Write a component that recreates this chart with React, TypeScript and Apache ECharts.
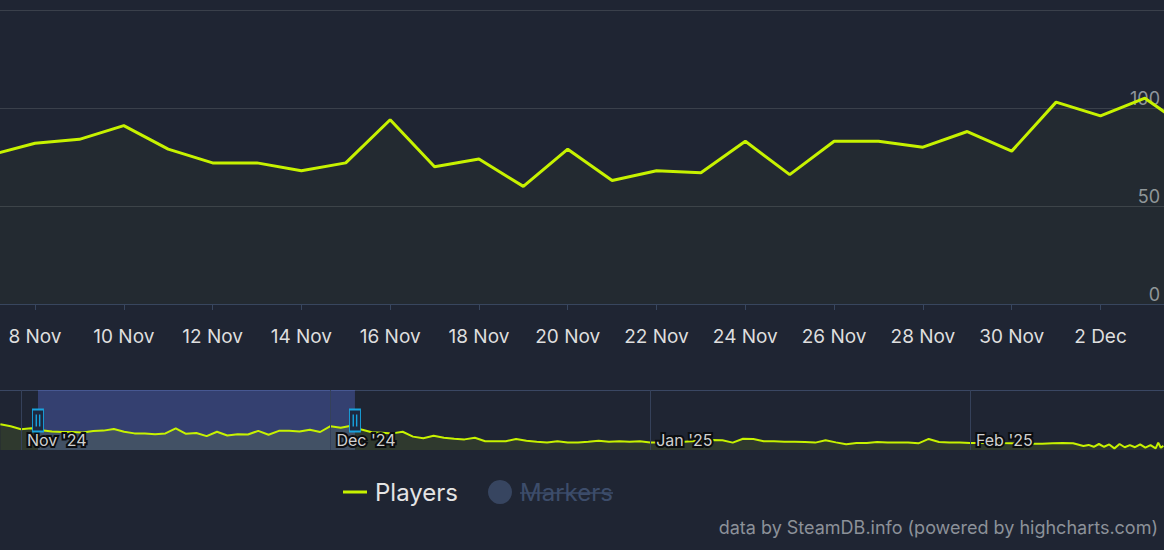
import React, { useEffect, useRef } from 'react';
import * as echarts from 'echarts';

// ---------- data ----------
const dailyStart = '2024-10-30';
const dailyPlayers = [
  112, 103, 90, 94, 86, 80, 78, 78, 76,
  82, 84, 91, 79, 72, 72, 68, 72, 94, 70, 74, 60, 79, 63, 68, 67, 83, 66, 83, 83, 80, 88, 78,
  103, 96, 105, 89, 77, 75, 72, 79, 58, 51, 62, 53, 49, 46, 53, 38, 38, 38, 48, 40, 36, 33, 38, 32, 33, 36, 40, 36, 38, 36, 38,
  33, 33, 36, 35, 38, 40, 43, 42, 32, 49, 48, 38, 38, 36, 36, 35, 32, 42, 33, 25, 30, 30, 35, 32, 33, 33, 29, 48, 35, 33, 32,
  30, 30, 32, 30, 29, 26, 27, 27, 29, 30, 29,
];
const recentTimes = [
  '2025-02-12T00:00', '2025-02-12T12:00', '2025-02-13T00:00', '2025-02-13T12:00',
  '2025-02-14T00:00', '2025-02-14T12:00', '2025-02-15T00:00', '2025-02-15T12:00',
  '2025-02-16T00:00', '2025-02-16T12:00', '2025-02-17T00:00', '2025-02-17T12:00',
  '2025-02-18T00:00', '2025-02-18T12:00', '2025-02-19T00:00', '2025-02-19T06:00',
  '2025-02-19T12:00', '2025-02-19T18:00',
];
const recentPlayers = [17, 22, 14, 26, 14, 24, 7, 26, 12, 21, 12, 24, 10, 21, 7, 32, 10, 18];

const mainRange = ['2024-11-07T05:05', '2024-12-03T10:20'];
const mainTickDates = [
  '2024-11-08', '2024-11-10', '2024-11-12', '2024-11-14', '2024-11-16', '2024-11-18', '2024-11-20',
  '2024-11-22', '2024-11-24', '2024-11-26', '2024-11-28', '2024-11-30', '2024-12-02',
];
const yTicks = [0, 50, 100, 150];
const navigatorRange = ['2024-10-29T23:08', '2025-02-19T19:26'];
const navigatorMonths = ['2024-11-01', '2024-12-01', '2025-01-01', '2025-02-01'];
const selectedRange = ['2024-11-02T15:30', '2024-12-03T09:00'];
const navigatorMax = 260;
const handleLevel = 128;

const legendNames = ['Players', 'Markers'];
const creditText = 'data by SteamDB.info (powered by highcharts.com)';

// ---------- helpers ----------
const DAY = 86400000;
const ORIGIN = Date.UTC(2024, 10, 8);
const MONTHS = ['Jan', 'Feb', 'Mar', 'Apr', 'May', 'Jun', 'Jul', 'Aug', 'Sep', 'Oct', 'Nov', 'Dec'];
function toDay(s: string): number {
  const iso = s.length <= 10 ? s + 'T00:00:00Z' : s + ':00Z';
  return (Date.parse(iso) - ORIGIN) / DAY;
}
function dateOf(v: number): Date {
  return new Date(ORIGIN + Math.round(v * 24) * 3600000);
}
const fmtDay = (v: number) => {
  const d = dateOf(v);
  return `${d.getUTCDate()} ${MONTHS[d.getUTCMonth()]}`;
};
const fmtMonth = (v: number) => {
  const d = dateOf(v);
  return `${MONTHS[d.getUTCMonth()]} '${String(d.getUTCFullYear()).slice(2)}`;
};

const BG = '#1f2533';
const LINE = '#c7f200';
const FONT = 'Inter, "Noto Sans", sans-serif';
const INACTIVE = '#3d4d6b';

export default function App() {
  const ref = useRef<HTMLDivElement>(null);
  useEffect(() => {
    if (!ref.current) return;
    const chart = echarts.init(ref.current, undefined, { renderer: 'svg' });
    const start = toDay(dailyStart);
    const playerData: number[][] = dailyPlayers
      .map((v, i) => [start + i, v])
      .concat(recentTimes.map((t, i) => [toDay(t), recentPlayers[i]]));
    const mainTicks = mainTickDates.map(toDay);
    const navTicks = navigatorMonths.map(toDay);
    const selStart = toDay(selectedRange[0]);
    const selEnd = toDay(selectedRange[1]);
    const handle = (x: number) => [
      {
        coord: [x, handleLevel],
        symbol: 'rect',
        symbolSize: [11, 22],
        itemStyle: { color: '#1d2940', borderColor: '#18a3de', borderWidth: 1.3 },
      },
      {
        coord: [x, handleLevel],
        symbol: 'path://M0,0H1.4V12H0Z M3.4,0H4.8V12H3.4Z',
        symbolSize: [4.8, 12],
        itemStyle: { color: '#18a3de' },
      },
    ];

    chart.setOption({
      animation: false,
      backgroundColor: BG,
      textStyle: { fontFamily: FONT },
      title: {
        text: creditText,
        right: 6,
        top: 518,
        padding: 0,
        textStyle: { color: '#8c9199', fontSize: 18, fontWeight: 'normal', fontFamily: FONT },
      },
      legend: [
        {
          data: [legendNames[0]],
          left: 343,
          top: 480,
          padding: 0,
          itemWidth: 24,
          itemHeight: 3,
          icon: 'rect',
          textStyle: { color: '#e4e4e4', fontSize: 24, fontFamily: FONT, padding: [0, 0, 0, 3] },
        },
        {
          data: [legendNames[1]],
          left: 488,
          top: 480,
          padding: 0,
          itemWidth: 24,
          itemHeight: 24,
          icon: 'circle',
          inactiveColor: INACTIVE,
          selected: { Markers: false },
          textStyle: { color: INACTIVE, fontSize: 24, fontFamily: FONT, padding: [0, 0, 0, 3] },
        },
      ],
      grid: [
        { left: 0, right: 0, top: 10, height: 294 },
        { left: 0, right: 0, top: 390, height: 60 },
      ],
      xAxis: [
        {
          type: 'value',
          gridIndex: 0,
          min: toDay(mainRange[0]),
          max: toDay(mainRange[1]),
          axisLine: { show: true, lineStyle: { color: '#38465e', width: 1 } },
          axisTick: { show: true, length: 6, lineStyle: { color: '#38465e' }, customValues: mainTicks },
          axisLabel: {
            customValues: mainTicks,
            formatter: fmtDay,
            color: '#dedede',
            fontSize: 19,
            margin: 23,
            fontFamily: FONT,
          },
          splitLine: { show: false },
        },
        {
          type: 'value',
          gridIndex: 1,
          min: toDay(navigatorRange[0]),
          max: toDay(navigatorRange[1]),
          z: 3,
          axisLine: { show: false },
          axisTick: { show: false, customValues: navTicks },
          axisLabel: {
            customValues: navTicks,
            inside: true,
            formatter: fmtMonth,
            align: 'left',
            margin: 2,
            padding: [0, 0, 0, 6],
            color: '#d0d0d0',
            fontSize: 16,
            fontFamily: FONT,
            textBorderColor: '#0b0d10',
            textBorderWidth: 4,
          },
          splitLine: { show: true, lineStyle: { color: '#35415a', width: 1 } },
        },
      ],
      yAxis: [
        {
          type: 'value',
          gridIndex: 0,
          min: yTicks[0],
          max: yTicks[yTicks.length - 1],
          interval: yTicks[1] - yTicks[0],
          position: 'right',
          axisLine: { show: false },
          axisTick: { show: false },
          axisLabel: {
            inside: true,
            margin: 4,
            showMaxLabel: false,
            verticalAlign: 'bottom',
            padding: [0, 0, 1, 0],
            color: '#8f959d',
            fontSize: 18,
            fontFamily: FONT,
          },
          splitLine: { show: true, lineStyle: { color: '#3a404b', width: 1 } },
        },
        {
          type: 'value',
          gridIndex: 1,
          min: 0,
          max: navigatorMax,
          interval: navigatorMax,
          axisLine: { show: false },
          axisTick: { show: false },
          axisLabel: { show: false },
          splitLine: { show: true, lineStyle: { color: ['rgba(0,0,0,0)', '#3a4763'], width: 1 } },
        },
      ],
      series: [
        {
          name: legendNames[0],
          type: 'line',
          xAxisIndex: 0,
          yAxisIndex: 0,
          data: playerData,
          symbol: 'none',
          showSymbol: false,
          clip: true,
          silent: true,
          lineStyle: { color: LINE, width: 3 },
          itemStyle: { color: LINE },
          areaStyle: { color: 'rgba(199,242,0,0.035)' },
          z: 2,
        },
        {
          name: legendNames[1],
          type: 'scatter',
          xAxisIndex: 0,
          yAxisIndex: 0,
          data: [],
          itemStyle: { color: INACTIVE },
        },
        {
          name: 'navigator',
          type: 'line',
          xAxisIndex: 1,
          yAxisIndex: 1,
          data: playerData,
          symbol: 'none',
          showSymbol: false,
          silent: true,
          lineStyle: { color: LINE, width: 2 },
          itemStyle: { color: LINE },
          areaStyle: { color: 'rgba(199,242,0,0.14)' },
          z: 2,
        },
        {
          name: 'selection',
          type: 'line',
          xAxisIndex: 1,
          yAxisIndex: 1,
          data: playerData,
          symbol: 'none',
          showSymbol: false,
          silent: true,
          lineStyle: { opacity: 0 },
          z: 4,
          markArea: {
            silent: true,
            itemStyle: { color: 'rgba(102,128,255,0.3)' },
            data: [[{ xAxis: selStart }, { xAxis: selEnd }]],
          },
          markPoint: {
            silent: true,
            symbolKeepAspect: false,
            label: { show: false },
            data: [...handle(selStart), ...handle(selEnd)],
          },
        },
      ],
      graphic: [
        {
          type: 'line',
          shape: { x1: 520, y1: 493, x2: 613, y2: 493 },
          style: { stroke: INACTIVE, lineWidth: 1.5 },
          z: 100,
        },
      ],
    });
    return () => chart.dispose();
  }, []);
  return (
    <div
      ref={ref}
      style={{ position: 'absolute', left: 0, top: 0, width: 1164, height: 550 }}
    />
  );
}
